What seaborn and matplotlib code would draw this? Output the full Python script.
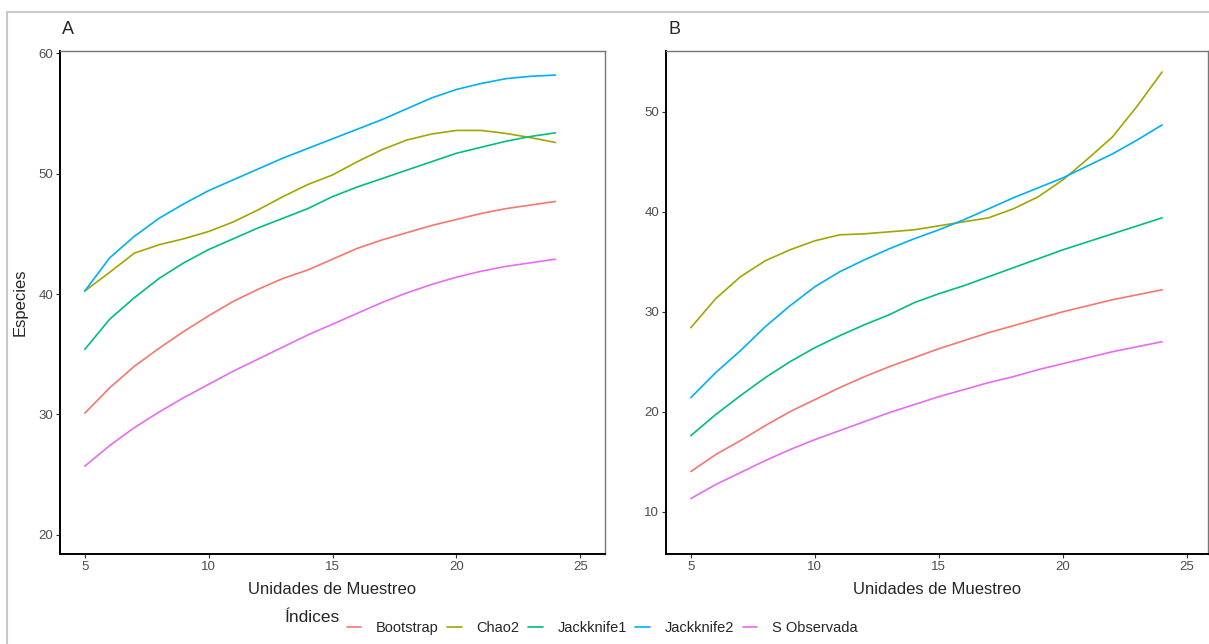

# Curvas de acumulación de especies — dos sitios (A y B)
# Estimadores: Bootstrap, Chao2, Jackknife1, Jackknife2 y S observada

import pandas as pd
import matplotlib.pyplot as plt
from matplotlib.lines import Line2D
import seaborn as sns

unidades = list(range(5, 25))
indices = ["Bootstrap", "Chao2", "Jackknife1", "Jackknife2", "S Observada"]
colores = ["#F8766D", "#A3A500", "#00BF7D", "#00B0F6", "#E76BF3"]

# --- Panel A -----------------------------------------------------------------
a_bootstrap = [30.1, 32.2, 34.0, 35.5, 36.9, 38.2, 39.4, 40.4, 41.3, 42.0,
               42.9, 43.8, 44.5, 45.1, 45.7, 46.2, 46.7, 47.1, 47.4, 47.7]
a_chao2 = [40.25, 41.8, 43.4, 44.1, 44.6, 45.2, 46.0, 47.0, 48.1, 49.1,
           49.9, 51.0, 52.0, 52.8, 53.3, 53.6, 53.6, 53.35, 53.0, 52.6]
a_jack1 = [35.4, 37.9, 39.7, 41.3, 42.6, 43.7, 44.6, 45.5, 46.3, 47.1,
           48.1, 48.9, 49.6, 50.3, 51.0, 51.7, 52.2, 52.7, 53.1, 53.4]
a_jack2 = [40.25, 43.0, 44.8, 46.3, 47.5, 48.6, 49.5, 50.4, 51.3, 52.1,
           52.9, 53.7, 54.5, 55.4, 56.3, 57.0, 57.5, 57.9, 58.1, 58.2]
a_sobs = [25.7, 27.4, 28.9, 30.2, 31.4, 32.5, 33.6, 34.6, 35.6, 36.6,
          37.5, 38.4, 39.3, 40.1, 40.8, 41.4, 41.9, 42.3, 42.6, 42.9]

# --- Panel B -----------------------------------------------------------------
b_bootstrap = [14.0, 15.7, 17.1, 18.6, 20.0, 21.2, 22.4, 23.5, 24.5, 25.4,
               26.3, 27.1, 27.9, 28.6, 29.3, 30.0, 30.6, 31.2, 31.7, 32.2]
b_chao2 = [28.4, 31.3, 33.5, 35.1, 36.2, 37.1, 37.7, 37.8, 38.0, 38.2,
           38.6, 39.0, 39.4, 40.3, 41.5, 43.2, 45.3, 47.5, 50.6, 54.0]
b_jack1 = [17.6, 19.7, 21.6, 23.4, 25.0, 26.4, 27.6, 28.7, 29.7, 30.9,
           31.8, 32.6, 33.5, 34.4, 35.3, 36.2, 37.0, 37.8, 38.6, 39.4]
b_jack2 = [21.4, 23.9, 26.1, 28.5, 30.6, 32.5, 34.0, 35.2, 36.3, 37.3,
           38.2, 39.2, 40.3, 41.4, 42.4, 43.4, 44.6, 45.8, 47.2, 48.7]
b_sobs = [11.3, 12.7, 13.9, 15.1, 16.2, 17.2, 18.1, 19.0, 19.9, 20.7,
          21.5, 22.2, 22.9, 23.5, 24.2, 24.8, 25.4, 26.0, 26.5, 27.0]


def to_long(series):
    frames = []
    for name, vals in zip(indices, series):
        frames.append(pd.DataFrame({"unidades": unidades, "especies": vals, "indice": name}))
    return pd.concat(frames, ignore_index=True)


df_a = to_long([a_bootstrap, a_chao2, a_jack1, a_jack2, a_sobs])
df_b = to_long([b_bootstrap, b_chao2, b_jack1, b_jack2, b_sobs])

sns.set_theme(style="white")
plt.rcParams["font.family"] = ["Liberation Sans", "DejaVu Sans"]

W, H = 1209, 644
fig = plt.figure(figsize=(W / 100, H / 100), dpi=100)

# light frame around the figure (left and top visible)
fig.add_artist(Line2D([7 / W, 7 / W], [0, 1 - 12 / H], color="#c8c8c8", lw=1.5))
fig.add_artist(Line2D([7 / W, 1], [1 - 12 / H, 1 - 12 / H], color="#c8c8c8", lw=1.5))

ax_a = fig.add_axes([60 / W, 1 - 554 / H, 545 / W, 503 / H])
ax_b = fig.add_axes([666 / W, 1 - 554 / H, 542 / W, 503 / H])

panels = [
    (ax_a, df_a, (4, 26), (18.4, 60.2), [20, 30, 40, 50, 60]),
    (ax_b, df_b, (4, 25.85), (5.75, 56.1), [10, 20, 30, 40, 50]),
]

for ax, df, xlim, ylim, yticks in panels:
    sns.lineplot(data=df, x="unidades", y="especies", hue="indice",
                 hue_order=indices, palette=colores, lw=1.2, ax=ax, legend=False)
    ax.set_xlim(*xlim)
    ax.set_ylim(*ylim)
    ax.set_xticks([5, 10, 15, 20, 25])
    ax.set_yticks(yticks)
    ax.set_xlabel("")
    ax.set_ylabel("")
    ax.tick_params(axis="both", length=3, width=0.8, color="#333333",
                   labelsize=9.5, labelcolor="#4d4d4d", pad=2, direction="out")
    ax.tick_params(axis="both", which="both", bottom=True, left=True)
    for side in ["left", "bottom"]:
        ax.spines[side].set_color("black")
        ax.spines[side].set_linewidth(1.4)
    for side in ["top", "right"]:
        ax.spines[side].set_color("#777777")
        ax.spines[side].set_linewidth(1.0)

fig.text(62 / W, 1 - 30 / H, "A", fontsize=13, va="center", ha="left")
fig.text(668 / W, 1 - 30 / H, "B", fontsize=13, va="center", ha="left")
fig.text(20 / W, 1 - 302 / H, "Especies", fontsize=12, rotation=90,
         va="center", ha="center")
fig.text(332 / W, 1 - 590 / H, "Unidades de Muestreo", fontsize=12,
         va="center", ha="center")
fig.text(937 / W, 1 - 590 / H, "Unidades de Muestreo", fontsize=12,
         va="center", ha="center")

# legend at the bottom, title on the left
fig.text(312 / W, 1 - 618 / H, "Índices", fontsize=12.5, va="center", ha="center")
handles = [Line2D([], [], color=c, lw=1.2) for c in colores]
fig.legend(handles, indices, loc="center", bbox_to_anchor=(602 / W, 1 - 628 / H),
           ncol=5, frameon=False, fontsize=10.5, handlelength=1.0,
           handletextpad=1.0, columnspacing=0.6, borderaxespad=0, borderpad=0)

fig.savefig("out.png", dpi=100)
